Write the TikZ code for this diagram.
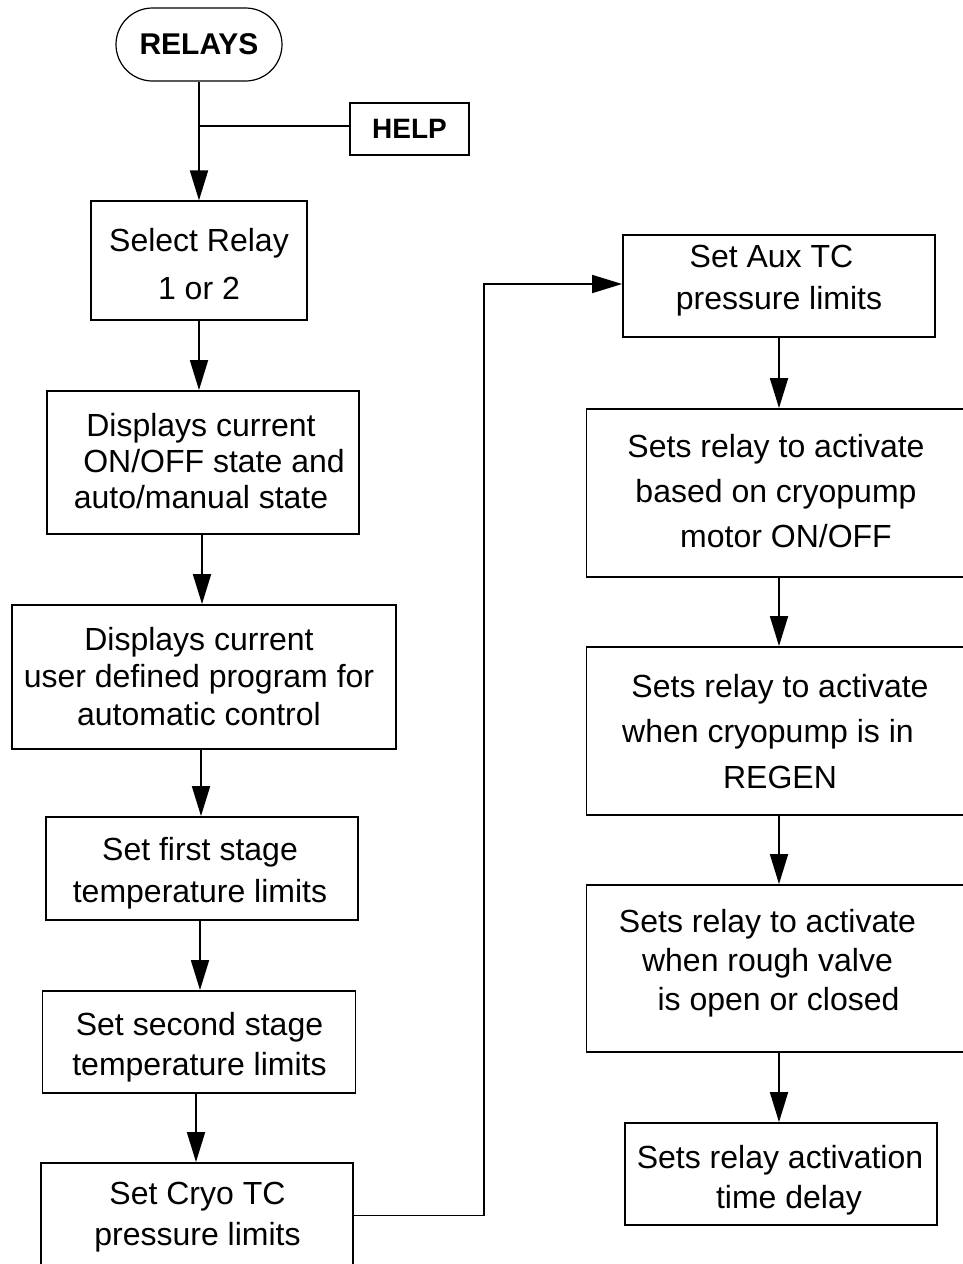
\documentclass[tikz,border=0pt]{standalone}
\usepackage{fontspec}
\setmainfont{Liberation Sans}
\usetikzlibrary{arrows.meta}
\newcommand\mlines[2]{\fontsize{32}{#1}\selectfont\begin{tabular}[t]{@{}c@{}}#2\end{tabular}}
\begin{document}
\begin{tikzpicture}[x=1pt,y=-1pt,
  box/.style={draw, line width=1.8pt, inner sep=0pt, rectangle},
  thinbox/.style={box, line width=1.2pt},
  txt/.style={anchor=base, inner sep=0pt},
  conn/.style={line width=1.8pt},
  arr/.style={conn, -{Triangle[length=30pt,width=18pt]}}]
\useasboundingbox (0,0) rectangle (963,1264);

% start and help
\node[thinbox, rounded corners=36.5pt, minimum width=166pt, minimum height=73pt,
      font=\fontsize{30}{36}\selectfont\bfseries] (relays) at (199,44.5) {RELAYS};
\node[box, minimum width=119pt, minimum height=52pt,
      font=\fontsize{28}{34}\selectfont\bfseries] (help) at (409.5,129) {HELP};

% left column
\node[thinbox, minimum width=216pt, minimum height=119pt] (select) at (199,260.5) {};
\node[txt] (tselect) at (199,251) {\mlines{48pt}{Select Relay\\1 or 2}};

\node[box, minimum width=312pt, minimum height=143pt] (disp1) at (203,462.5) {};
\node[txt] (tdisp1) at (201,436) {\mlines{36pt}{Displays current\\\hspace*{26pt}ON/OFF state and\\auto/manual state}};

\node[box, minimum width=384pt, minimum height=144pt] (disp2) at (204,677) {};
\node[txt] (tdisp2) at (199,650) {\mlines{37.5pt}{Displays current\\user defined program for\\automatic control}};

\node[box, minimum width=312pt, minimum height=103pt] (first) at (202,868.5) {};
\node[txt] (tfirst) at (200,860) {\mlines{42pt}{Set first stage\\temperature limits}};

\node[box, minimum width=313pt, minimum height=102pt] (second) at (199,1042) {};
\node[txt] (tsecond) at (199.5,1035) {\mlines{40pt}{Set second stage\\temperature limits}};

\node[box, minimum width=312pt, minimum height=105pt] (cryo) at (197,1215.5) {};
\node[txt] (tcryo) at (197.5,1204) {\mlines{41pt}{Set Cryo TC\\pressure limits}};

% right column
\node[box, minimum width=312pt, minimum height=102pt] (aux) at (779,286) {};
\node[txt] (taux) at (779,267) {\mlines{42pt}{Set Aux TC\hspace*{15pt}\\pressure limits}};

\node[box, minimum width=385pt, minimum height=168pt] (r1) at (779,493) {};
\node[txt] (tr1) at (776,457) {\mlines{45pt}{Sets relay to activate\\based on cryopump\\\hspace*{20pt}motor ON/OFF}};

\node[box, minimum width=385pt, minimum height=168pt] (r2) at (779,731) {};
\node[txt] (tr2) at (780,697) {\mlines{45.5pt}{Sets relay to activate\\when cryopump is in\hspace*{24pt}\\REGEN}};

\node[box, minimum width=385pt, minimum height=167pt] (r3) at (779,968.5) {};
\node[txt] (tr3) at (767.5,932) {\mlines{39pt}{Sets relay to activate\\when rough valve\\\hspace*{22pt}is open or closed}};

\node[box, minimum width=312pt, minimum height=102pt] (last) at (781,1174) {};
\node[txt] (tlast) at (780,1168) {\mlines{40pt}{Sets relay activation\\\hspace*{18pt}time delay}};

% connectors
\coordinate (jn) at (199,126);
\coordinate (turn) at (484,0);
\draw[arr] (relays.south) -- (relays.south |- select.north);
\draw[conn] (help.west |- jn) -- (jn);
\draw[arr] (select.south) -- (select.south |- disp1.north);
\draw[arr] ([xshift=-1pt]disp1.south) -- ([xshift=-1pt]disp1.south |- disp2.north);
\draw[arr] ([xshift=-3pt]disp2.south) -- ([xshift=-3pt]disp2.south |- first.north);
\draw[arr] ([xshift=-2pt]first.south) -- ([xshift=-2pt]first.south |- second.north);
\draw[arr] ([xshift=-3pt]second.south) -- ([xshift=-3pt]second.south |- cryo.north);
\draw[arr] (cryo.east) -- (cryo.east -| turn) -- ([yshift=2pt]turn |- aux.west) -- ([yshift=2pt]aux.west);
\draw[arr] (aux.south) -- (aux.south |- r1.north);
\draw[arr] (r1.south) -- (r1.south |- r2.north);
\draw[arr] (r2.south) -- (r2.south |- r3.north);
\draw[arr] (r3.south) -- (r3.south |- last.north);
\end{tikzpicture}
\end{document}
